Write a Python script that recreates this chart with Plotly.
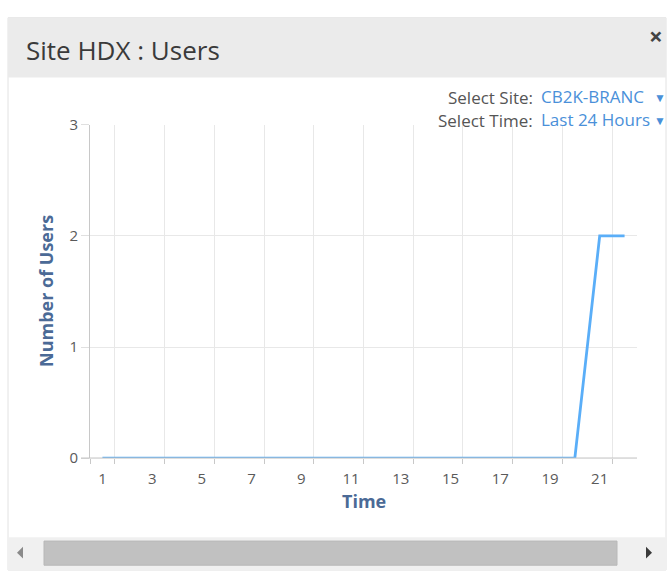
import plotly.graph_objects as go

# Hourly user counts for the selected site over the last 24 hours
hours = [1, 2, 3, 4, 5, 6, 7, 8, 9, 10, 11, 12, 13, 14, 15, 16, 17, 18, 19, 20, 21, 22]
users = [0, 0, 0, 0, 0, 0, 0, 0, 0, 0, 0, 0, 0, 0, 0, 0, 0, 0, 0, 0, 2, 2]
hour_labels = [1, 3, 5, 7, 9, 11, 13, 15, 17, 19, 21]
user_ticks = [0, 1, 2, 3]

W, H = 670, 580
FONT = "Open Sans"


def px(x):
    return x / W


def py(y):
    return 1 - y / H


fig = go.Figure()
fig.add_trace(go.Scatter(
    x=hours, y=users, mode="lines",
    line=dict(color="#5aaef8", width=2.8),
    hoverinfo="x+y", showlegend=False,
))

shapes = [
    # widget panel outline
    dict(type="rect", xref="paper", yref="paper", x0=px(8), x1=px(666), y0=py(579), y1=py(7),
         line=dict(color="#e2e2e2", width=1), fillcolor="white", layer="below"),
    # header bar
    dict(type="rect", xref="paper", yref="paper", x0=px(8), x1=px(666), y0=py(69), y1=py(7),
         line=dict(width=0), fillcolor="#ebebeb", layer="below"),
    # scrollbar track
    dict(type="rect", xref="paper", yref="paper", x0=px(8), x1=px(666), y0=py(579), y1=py(545),
         line=dict(width=0), fillcolor="#f0f0f0", layer="below"),
    # scrollbar thumb
    dict(type="rect", xref="paper", yref="paper", x0=px(44), x1=px(617), y0=py(574), y1=py(549),
         line=dict(color="#b8b8b8", width=1), fillcolor="#c1c1c1", layer="below"),
    # scrollbar arrows
    dict(type="path", xref="paper", yref="paper",
         path=f"M {px(17)} {py(561)} L {px(23)} {py(555)} L {px(23)} {py(567)} Z",
         fillcolor="#8a8a8a", line=dict(width=0)),
    dict(type="path", xref="paper", yref="paper",
         path=f"M {px(652)} {py(561)} L {px(646)} {py(555)} L {px(646)} {py(567)} Z",
         fillcolor="#3a3a3a", line=dict(width=0)),
    # x axis baseline extended past the y axis
    dict(type="line", xref="paper", yref="paper", x0=px(81), x1=px(637), y0=py(463), y1=py(463),
         line=dict(color="#c0c0c0", width=1)),
]

annotations = [
    dict(text="Site HDX : Users", x=px(24), y=py(40), xanchor="left", yanchor="middle",
         font=dict(family=FONT, size=26, color="#3a3a3a")),
    dict(text="<b>×</b>", x=px(656), y=py(25), xanchor="center", yanchor="middle",
         font=dict(family=FONT, size=24, color="#444444")),
    dict(text="Select Site:", x=px(535), y=py(90), xanchor="right", yanchor="middle",
         font=dict(family=FONT, size=17, color="#555555")),
    dict(text="CB2K-BRANC", x=px(539), y=py(89), xanchor="left", yanchor="middle",
         font=dict(family=FONT, size=17, color="#4a90d9")),
    dict(text="▼", x=px(668), y=py(90), xanchor="right", yanchor="middle",
         font=dict(family=FONT, size=12, color="#4a90d9")),
    dict(text="Select Time:", x=px(535), y=py(113), xanchor="right", yanchor="middle",
         font=dict(family=FONT, size=17, color="#555555")),
    dict(text="Last 24 Hours", x=px(539), y=py(112), xanchor="left", yanchor="middle",
         font=dict(family=FONT, size=17, color="#4a90d9")),
    dict(text="▼", x=px(668), y=py(113), xanchor="right", yanchor="middle",
         font=dict(family=FONT, size=12, color="#4a90d9")),
    dict(text="<b>Number of Users</b>", x=px(46), y=py(290), textangle=-90,
         xanchor="center", yanchor="middle",
         font=dict(family=FONT, size=18, color="#4b6a96")),
    dict(text="<b>Time</b>", x=px(364), y=py(508), xanchor="center", yanchor="middle",
         font=dict(family=FONT, size=18, color="#4b6a96")),
]
for a in annotations:
    a.update(xref="paper", yref="paper", showarrow=False)

fig.update_layout(
    width=W, height=H, autosize=False,
    margin=dict(l=0, r=0, t=0, b=0),
    paper_bgcolor="white", plot_bgcolor="white",
    font=dict(family=FONT, size=14, color="#666666"),
    shapes=shapes, annotations=annotations,
    xaxis=dict(
        domain=[px(90), px(637)], range=[0.5, 22.5],
        tickmode="array", tickvals=hour_labels,
        showgrid=False, zeroline=False,
        ticks="outside", ticklen=7, tickcolor="rgba(0,0,0,0)",
        showline=False,
        tickfont=dict(family=FONT, size=15, color="#5a5a5a"),
        minor=dict(tickmode="array",
                   tickvals=[0.5, 1.5, 3.5, 5.5, 7.5, 9.5, 11.5, 13.5, 15.5, 17.5, 19.5, 21.5],
                   showgrid=True, gridcolor="#e8e8e8", gridwidth=1,
                   ticks="outside", ticklen=5, tickcolor="#c8c8c8"),
        fixedrange=True,
    ),
    yaxis=dict(
        domain=[py(463), py(118)], range=[0, 3],
        tickmode="array", tickvals=user_ticks,
        showgrid=True, gridcolor="#e8e8e8", gridwidth=1,
        zeroline=False, showline=True, linecolor="#c8c8c8", linewidth=1,
        ticks="outside", ticklen=8, tickcolor="#e0e0e0",
        tickfont=dict(family=FONT, size=15, color="#5a5a5a"),
        fixedrange=True,
    ),
)

fig.write_html("out.html", config={"responsive": False})
